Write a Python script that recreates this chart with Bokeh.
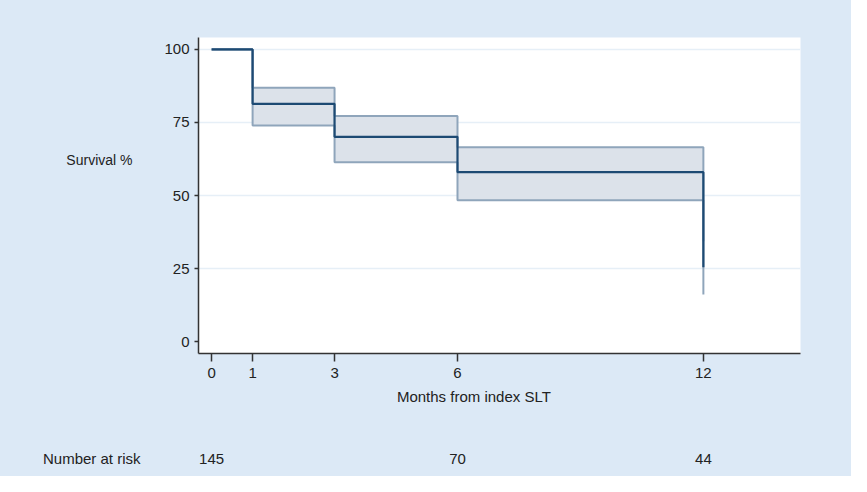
from bokeh.plotting import figure
from bokeh.layouts import column
from bokeh.models import Range1d, FixedTicker, LinearAxis
from bokeh.core.properties import value
from bokeh.embed import file_html
from bokeh.resources import INLINE

# Kaplan-Meier estimate and 95% CI
months = [0, 1, 3, 6, 12]
survival = [100, 81.4, 70.1, 58.0, 25.4]
ci_upper = [100, 86.9, 77.2, 66.5, 34.3]
ci_lower = [100, 74.0, 61.4, 48.4, 16.1]

x_ticks = [0, 1, 3, 6, 12]
y_ticks = [0, 25, 50, 75, 100]
grid_ticks = [25, 50, 75, 100]

risk_months = [0, 6, 12]
risk_counts = ["145", "70", "44"]

bg = "#dce9f6"
font = "Liberation Sans"
ink = "#222222"

W = 851
left, right = 198, 51

p = figure(width=W, height=410,
           x_range=Range1d(-0.32, 14.37), y_range=Range1d(-4.1, 104.1),
           output_backend="svg", toolbar_location=None,
           min_border_left=left, min_border_right=right,
           min_border_top=37, min_border_bottom=57)
p.border_fill_color = bg
p.background_fill_color = "white"
p.outline_line_color = None

# confidence band
p.varea_step(x=months, y1=ci_lower, y2=ci_upper, step_mode="after",
             fill_color="#dce2ea")
p.step(months, ci_upper, mode="after", line_color="#8fa5bb", line_width=2)
p.step(months, ci_lower, mode="after", line_color="#8fa5bb", line_width=2)

# survival curve
p.step(months, survival, mode="after", line_color="#1d4a73", line_width=2.2)

# axes
p.xaxis.ticker = FixedTicker(ticks=x_ticks)
p.yaxis.ticker = FixedTicker(ticks=y_ticks)
for ax in (p.xaxis, p.yaxis):
    ax.axis_line_color = "#333333"
    ax.axis_line_width = 1.5
    ax.major_tick_line_color = "#333333"
    ax.major_tick_line_width = 1.5
    ax.minor_tick_line_color = None
    ax.major_tick_in = 0
    ax.major_label_text_font = font
    ax.major_label_text_font_size = "15px"
    ax.major_label_text_color = ink
p.xaxis.major_tick_out = 8
p.xaxis.major_label_standoff = 6
p.yaxis.major_tick_out = 4
p.yaxis.major_label_standoff = 5

p.xgrid.grid_line_color = None
p.ygrid.ticker = FixedTicker(ticks=grid_ticks)
p.ygrid.grid_line_color = "#e6eff7"
p.ygrid.grid_line_width = 1.5

# axis titles, placed as single-tick label axes so they sit off-centre like the original
def text_axis(ax, pos, txt, standoff, size):
    ax.ticker = FixedTicker(ticks=[pos])
    ax.major_label_overrides = {pos: txt}
    ax.axis_line_color = None
    ax.major_tick_line_color = None
    ax.minor_tick_line_color = None
    ax.major_tick_out = 0
    ax.major_tick_in = 0
    ax.major_label_standoff = standoff
    ax.major_label_text_font = font
    ax.major_label_text_font_size = size
    ax.major_label_text_color = ink
    return ax

p.add_layout(text_axis(LinearAxis(), 62, "Survival %", 29, "14px"), "left")
p.add_layout(text_axis(LinearAxis(), 6.4, "Months from index SLT", 7, "15px"), "below")

# number-at-risk row: a strip sharing the same x scale
r = figure(width=W, height=66, x_range=p.x_range, y_range=Range1d(0, 66),
           output_backend="svg", toolbar_location=None,
           x_axis_location=None, y_axis_location="left",
           min_border_left=left, min_border_right=right,
           min_border_top=0, min_border_bottom=0)
r.border_fill_color = bg
r.background_fill_color = None
r.outline_line_color = None
r.grid.grid_line_color = None
text_axis(r.yaxis[0], 18, "Number at risk", 58, "15px")

r.text(x=risk_months, y=[18] * len(risk_months), text=risk_counts,
       text_font=value(font), text_font_size="15px", text_color=ink,
       text_align="center", text_baseline="middle")

layout = column(p, r, spacing=0, styles={"background-color": bg})
open("out.html", "w").write(file_html(layout, INLINE))
